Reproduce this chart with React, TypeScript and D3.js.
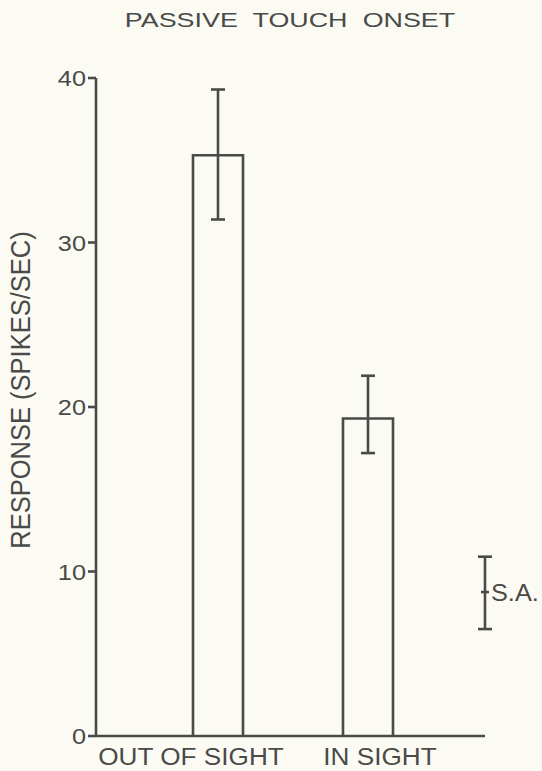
import React from 'react';
import * as d3 from 'd3';

// values
const categories = ['OUT OF SIGHT', 'IN SIGHT'];
const means = [35.3, 19.3];
const upper = [39.3, 21.9];
const lower = [31.4, 17.2];
const spontaneous = { mean: 8.75, hi: 10.9, lo: 6.5 };
const yTicks = [0, 10, 20, 30, 40];

const W = 542;
const H = 771;
const ink = '#4a4a48';
const font = '"Liberation Sans", Arial, sans-serif';

const Stretch = ({ x, y, sx = 1, size, anchor = 'start', children, spacing = 0 }) => (
    <g transform={`translate(${x},${y}) scale(${sx},1)`}>
        <text
            x={0}
            y={0}
            fontSize={size}
            fontFamily={font}
            fill={ink}
            textAnchor={anchor}
            style={{ wordSpacing: spacing }}
        >
            {children}
        </text>
    </g>
);

export default function App() {
    const left = 96;
    const right = 485;

    const y = d3.scaleLinear().domain([0, 40]).range([736, 78]);
    const x = d3
        .scaleBand()
        .domain(categories)
        .range([143, 443])
        .paddingInner(2 / 3)
        .paddingOuter(1 / 3);

    const bw = x.bandwidth();
    const cap = 7;
    const labelShift = [-27, 12];

    return (
        <svg
            width={W}
            height={H}
            style={{ position: 'absolute', left: 0, top: 0, background: '#fbfbf4' }}
        >
            <Stretch x={290} y={27} sx={1.28} size={21} anchor="middle" spacing={6}>
                PASSIVE TOUCH ONSET
            </Stretch>

            {/* y label */}
            <g transform={`translate(30,390) rotate(-90) scale(1.16,1.25)`}>
                <text
                    x={0}
                    y={0}
                    fontSize={22}
                    fontFamily={font}
                    fill={ink}
                    textAnchor="middle"
                >
                    RESPONSE (SPIKES/SEC)
                </text>
            </g>

            {/* axes */}
            <g stroke={ink} strokeWidth={2.6} fill="none">
                <line x1={left} x2={left} y1={y(40)} y2={y(0)} />
                <line x1={left} x2={right} y1={y(0)} y2={y(0)} />
                {yTicks.map((t) => (
                    <line key={t} x1={left - 8} x2={left} y1={y(t)} y2={y(t)} />
                ))}
            </g>
            {yTicks.map((t) => (
                <Stretch key={t} x={86} y={y(t) + 8} sx={1.15} size={22} anchor="end">
                    {t}
                </Stretch>
            ))}

            {/* bars */}
            <g stroke={ink} strokeWidth={2.6} fill="none">
                {categories.map((c, i) => {
                    const x0 = x(c);
                    const cx = x0 + bw / 2;
                    return (
                        <g key={c}>
                            <path
                                d={`M${x0},${y(0)}V${y(means[i])}H${x0 + bw}V${y(0)}`}
                            />
                            <line x1={cx} x2={cx} y1={y(upper[i])} y2={y(lower[i])} />
                            <line x1={cx - cap} x2={cx + cap} y1={y(upper[i])} y2={y(upper[i])} />
                            <line x1={cx - cap} x2={cx + cap} y1={y(lower[i])} y2={y(lower[i])} />
                        </g>
                    );
                })}

                {/* spontaneous activity */}
                <line x1={right} x2={right} y1={y(spontaneous.hi)} y2={y(spontaneous.lo)} />
                <line x1={right - cap} x2={right + cap} y1={y(spontaneous.hi)} y2={y(spontaneous.hi)} />
                <line x1={right - cap} x2={right + cap} y1={y(spontaneous.lo)} y2={y(spontaneous.lo)} />
                <line x1={right - 4} x2={right + 4} y1={y(spontaneous.mean)} y2={y(spontaneous.mean)} />
            </g>
            <Stretch x={491} y={y(spontaneous.mean) + 9} sx={1.1} size={23}>
                S.A.
            </Stretch>

            {categories.map((c, i) => (
                <Stretch
                    key={c}
                    x={x(c) + bw / 2 + labelShift[i]}
                    y={765}
                    sx={1.09}
                    size={24}
                    anchor="middle"
                >
                    {c}
                </Stretch>
            ))}
        </svg>
    );
}
